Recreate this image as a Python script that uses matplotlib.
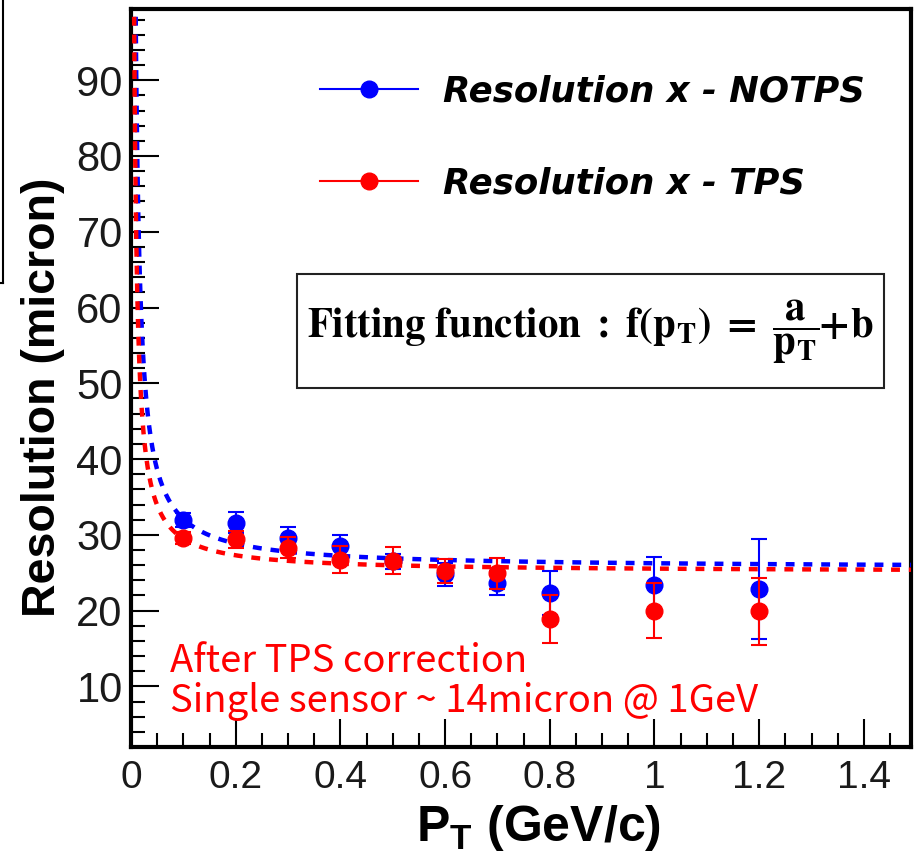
import numpy as np
import matplotlib
matplotlib.use("Agg")
import matplotlib.pyplot as plt
from matplotlib.lines import Line2D
from matplotlib.patches import Rectangle
from matplotlib.ticker import MultipleLocator

# ---- data ----
pt = [0.1, 0.2, 0.3, 0.4, 0.5, 0.6, 0.7, 0.8, 1.0, 1.2]
res_notps = [32.0, 31.6, 29.6, 28.5, 26.5, 24.8, 23.6, 22.3, 23.4, 22.9]
err_notps = [0.9, 1.4, 1.5, 1.5, 1.0, 1.5, 1.6, 2.9, 3.7, 6.6]
res_tps = [29.6, 29.4, 28.3, 26.7, 26.6, 25.2, 24.9, 18.9, 20.0, 19.9]
err_tps = [0.8, 1.1, 1.4, 1.8, 1.8, 1.6, 2.1, 3.2, 3.6, 4.4]
fit_notps = (0.65, 25.6)   # a, b
fit_tps = (0.44, 25.1)
x_ticks = [0, 0.2, 0.4, 0.6, 0.8, 1, 1.2, 1.4]
x_tick_labels = ["0", "0.2", "0.4", "0.6", "0.8", "1", "1.2", "1.4"]
y_ticks = [10, 20, 30, 40, 50, 60, 70, 80, 90]

plt.rcParams['mathtext.fontset'] = 'custom'
plt.rcParams['mathtext.bf'] = 'Liberation Sans:bold'
plt.rcParams['mathtext.rm'] = 'Liberation Sans'

fig = plt.figure(figsize=(9.16, 8.59), dpi=100)
ax = fig.add_axes([131/916, 1-747/859, 780/916, 738/859])

BLUE = '#0000ff'
RED = '#ff0000'

xf = np.linspace(0.004, 1.49, 1500)

ax.errorbar(pt, res_notps, yerr=err_notps, fmt='o', color=BLUE, ms=12,
            elinewidth=1.5, capsize=6, capthick=1.5, zorder=3)
ax.plot(xf, fit_notps[0]/xf + fit_notps[1], color=BLUE, lw=3.2, dashes=(2, 2), zorder=4)
ax.errorbar(pt, res_tps, yerr=err_tps, fmt='o', color=RED, ms=12,
            elinewidth=1.5, capsize=6, capthick=1.5, zorder=5)
ax.plot(xf, fit_tps[0]/xf + fit_tps[1], color=RED, lw=3.2, dashes=(2, 2), zorder=6)

ax.set_xlim(0, 1.49)
ax.set_ylim(2, 99.4)

ax.set_xticks(x_ticks)
ax.set_xticklabels(x_tick_labels)
ax.set_yticks(y_ticks)
ax.xaxis.set_minor_locator(MultipleLocator(0.05))
ax.yaxis.set_minor_locator(MultipleLocator(2))
ax.tick_params(which='both', direction='in', top=False, right=False,
               width=1.5, color='black')
ax.tick_params(which='major', length=20, labelcolor='#1a1a1a')
ax.tick_params(which='minor', length=10)
ax.tick_params(axis='x', labelsize=28, pad=9)
ax.tick_params(axis='y', labelsize=30, pad=6)
for lab in ax.get_xticklabels() + ax.get_yticklabels():
    lab.set_fontfamily('Liberation Sans')
for s in ax.spines.values():
    s.set_linewidth(3)

ax.set_ylabel('Resolution (micron)', fontsize=33.5, fontweight='bold',
              fontfamily='Liberation Sans')
ax.yaxis.set_label_coords(-0.085, 0.474)
ax.set_xlabel(r'$\mathbf{P_{T}}$ (GeV/c)', fontsize=36, fontweight='bold',
              fontfamily='Liberation Sans')
ax.xaxis.set_label_coords(0.523, -0.076)

# legend
handles = [Line2D([], [], color=BLUE, marker='o', ms=12, lw=1.5),
           Line2D([], [], color=RED, marker='o', ms=12, lw=1.5)]
labels = ['Resolution x - NOTPS', 'Resolution x - TPS']
leg = ax.legend(handles, labels, loc='center left', bbox_to_anchor=(0.242, 0.826),
                frameon=False, borderpad=0, borderaxespad=0, handlelength=2.75,
                handletextpad=0.72, labelspacing=1.62,
                prop={'family': 'DejaVu Sans', 'weight': 'bold',
                      'style': 'oblique', 'size': 25.6})

# fit box
ax.add_patch(Rectangle((0.213, 0.486), 0.752, 0.155, transform=ax.transAxes,
                       facecolor='white', edgecolor='#222222', lw=1.5, zorder=7))
ax.text(0.589, 0.563, r'$\mathbf{Fitting\ function\ :\ f(p_{T})\ =\ \dfrac{a}{p_{T}}\!\!+\!b}$',
        transform=ax.transAxes, ha='center', va='center', fontsize=29.4,
        math_fontfamily='stix', zorder=8)

# annotation
ax.text(0.05, 0.1016, 'After TPS correction', transform=ax.transAxes,
        color=RED, fontsize=27.5, family=['Noto Sans CJK JP', 'DejaVu Sans'],
        ha='left', va='baseline')
ax.text(0.05, 0.0474, 'Single sensor ~ 14micron @ 1GeV', transform=ax.transAxes,
        color=RED, fontsize=27.5, family=['Noto Sans CJK JP', 'DejaVu Sans'],
        ha='left', va='baseline')

# neighbouring-frame edge at top-left
fig.add_artist(Line2D([3/916, 3/916], [1, 1-283/859], transform=fig.transFigure,
                      color='black', lw=1.5))
fig.add_artist(Line2D([0, 3/916], [1-283/859, 1-283/859], transform=fig.transFigure,
                      color='black', lw=1.5))

fig.savefig('out.png', dpi=100)
